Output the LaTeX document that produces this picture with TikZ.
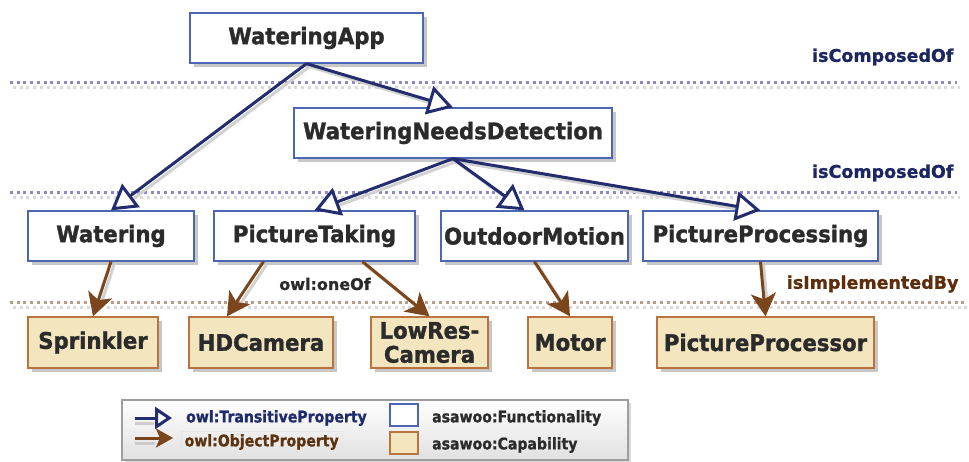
\documentclass[tikz,border=0pt]{standalone}
\usepackage{fontspec}
\setmainfont[BoldFeatures={FakeBold=1.0}]{DejaVu Sans}
\newfontfamily\boxfont[FakeStretch=0.93,BoldFeatures={FakeBold=1.4}]{DejaVu Sans}
\newfontfamily\legfont[FakeStretch=0.88,BoldFeatures={FakeBold=1.0}]{DejaVu Sans}
\usetikzlibrary{arrows.meta,shadows,calc}

\definecolor{navy}{HTML}{232D6E}
\definecolor{boxblue}{HTML}{4A66B5}
\definecolor{txtdark}{HTML}{2B2B2B}
\definecolor{brownarr}{HTML}{7B461C}
\definecolor{tanfill}{HTML}{F3E6BF}
\definecolor{tanline}{HTML}{B8733F}
\definecolor{dotblue}{HTML}{8C89C4}
\definecolor{dotbrown}{HTML}{B99C89}
\definecolor{dotshade}{HTML}{DADADA}
\definecolor{lblnavy}{HTML}{1C2660}
\definecolor{lblbrown}{HTML}{5C2E0C}
\definecolor{legnavy}{HTML}{1F2A6B}
\definecolor{legbrown}{HTML}{5C3310}

\tikzset{
  boxshadow/.style={drop shadow={shadow xshift=4pt,shadow yshift=-4pt,fill=black!22,opacity=1}},
  func/.style={draw=boxblue,line width=1.3pt,fill=white,boxshadow,
    minimum height=50pt,inner sep=0pt,text=txtdark,
    font=\boxfont\fontsize{22.8}{25}\selectfont\bfseries},
  capa/.style={draw=tanline,line width=1.3pt,fill=tanfill,boxshadow,
    minimum height=51pt,inner sep=0pt,text=txtdark,align=center,
    font=\boxfont\fontsize{22.8}{24}\selectfont\bfseries},
  trans/.style={draw=navy,line width=3pt,
    -{Triangle[open,length=25pt,width=29pt,fill=white]}},
  objprop/.style={draw=brownarr,line width=3pt,
    -{Stealth[length=23pt,width=25pt,inset=6pt]}},
  arrshade/.style={draw=black!18,line width=3pt,shorten >=14pt},
  level/.style={font=\fontsize{17.5}{20}\selectfont\bfseries,anchor=east},
  dotrule/.style={line width=3pt,dash pattern=on 3pt off 3.7pt},
  legtext/.style={font=\legfont\fontsize{16}{18}\selectfont\bfseries,anchor=west,inner sep=1pt},
}

\begin{document}
\begin{tikzpicture}[x=1pt,y=-1pt]
\useasboundingbox (0,0) rectangle (969,461);

% level separators (dots with a grey shade under them)
\draw[dotrule,dotshade] (13,87) -- (960,87);
\draw[dotrule,dotblue] (10,82) -- (957,82);
\draw[dotrule,dotshade] (13,197) -- (960,197);
\draw[dotrule,dotblue] (10,192) -- (957,192);
\draw[dotrule,dotshade] (13,307) -- (969,307);
\draw[dotrule,dotbrown] (10,302) -- (966,302);

\node[level,text=lblnavy] (lvlA) at (957,57) {isComposedOf};
\node[level,text=lblnavy] (lvlB) at (957,173) {isComposedOf};
\node[level,text=lblbrown] (lvlC) at (962,284) {isImplementedBy};

% functionalities
\node[func,minimum width=233pt] (app) at (306.5,38) {WateringApp};
\node[func,minimum width=318pt] (wnd) at (453,133) {WateringNeedsDetection};
\node[func,minimum width=166pt] (watering) at (111,236) {Watering};
\node[func,minimum width=201pt] (pictaking) at (314.5,236) {PictureTaking};
\node[func,minimum width=187pt] (outdoor) at (534.5,236) {OutdoorMotion};
\node[func,minimum width=235pt] (picproc) at (760.5,236) {PictureProcessing};

% capabilities
\node[capa,minimum width=130pt] (sprinkler) at (93,342.5) {Sprinkler};
\node[capa,minimum width=144pt] (hdcam) at (261,342.5) {HDCamera};
\node[capa,minimum width=117pt] (lowres) at (429.5,342.5) {LowRes-\\Camera};
\node[capa,minimum width=84pt] (motor) at (570,342.5) {Motor};
\node[capa,minimum width=217pt] (picprocessor) at (765.5,342.5) {PictureProcessor};

\node[font=\fontsize{16}{18}\selectfont\bfseries,text=txtdark] (oneof) at (325,284) {owl:oneOf};

% grey shade under every link
\begin{scope}[transform canvas={xshift=3pt,yshift=-3pt}]
  \draw[arrshade] (app.south) -- (watering.north);
  \draw[arrshade] (app.south) -- (wnd.north);
  \draw[arrshade] (wnd.south) -- (pictaking.north);
  \draw[arrshade] (wnd.south) -- ([xshift=-10pt]outdoor.north);
  \draw[arrshade] (wnd.south) -- (picproc.north);
  \draw[arrshade] (watering.south) -- (sprinkler.north);
  \draw[arrshade] ([xshift=-51pt]pictaking.south) -- ([xshift=-34pt]hdcam.north);
  \draw[arrshade] ([xshift=48pt]pictaking.south) -- (lowres.north);
  \draw[arrshade] (outdoor.south) -- (motor.north);
  \draw[arrshade] (picproc.south) -- (picprocessor.north);
\end{scope}

% composition links
\draw[trans] (app.south) -- (watering.north);
\draw[trans] (app.south) -- (wnd.north);
\draw[trans] (wnd.south) -- (pictaking.north);
\draw[trans] (wnd.south) -- ([xshift=-10pt]outdoor.north);
\draw[trans] (wnd.south) -- (picproc.north);

% implementation links
\draw[objprop] (watering.south) -- (sprinkler.north);
\draw[objprop] ([xshift=-51pt]pictaking.south) -- ([xshift=-34pt]hdcam.north);
\draw[objprop] ([xshift=48pt]pictaking.south) -- (lowres.north);
\draw[objprop] (outdoor.south) -- (motor.north);
\draw[objprop] (picproc.south) -- (picprocessor.north);

% legend
\node[draw=black!38,line width=2.2pt,top color=white,bottom color=black!12,
      minimum width=506pt,minimum height=60pt,inner sep=0pt,
      drop shadow={shadow xshift=3pt,shadow yshift=-3pt,fill=black!15,opacity=1}]
      (legend) at (375,430) {};
\coordinate (tA0) at (135,418);
\coordinate (tA1) at (172,418);
\coordinate (oA0) at (135,438);
\coordinate (oA1) at (173,438);
\draw[draw=black!20,line width=3pt] ($(tA0)+(0,5)$) -- ($(tA1)+(-18,5)$);
\draw[draw=black!20,line width=3pt] ($(oA0)+(0,5)$) -- ($(oA1)+(-18,5)$);
\draw[navy,line width=3pt,-{Triangle[open,length=17pt,width=22pt,fill=white]}] (tA0) -- (tA1);
\draw[brownarr,line width=3pt,-{Stealth[length=17pt,width=19pt,inset=4pt]}] (oA0) -- (oA1);
\node[legtext,text=legnavy] (ltrans) at (185,418) {owl:TransitiveProperty};
\node[legtext,text=legbrown,draw=black!10,line width=0.4pt,minimum width=161pt,
      minimum height=22pt,inner sep=0pt] (lobj) at (181,442) {owl:ObjectProperty};
\node[draw=boxblue,line width=1.2pt,fill=white,minimum width=28pt,minimum height=22pt,
      inner sep=0pt] (kfunc) at (404,415) {};
\node[draw=tanline,line width=1.2pt,fill=tanfill,minimum width=28pt,minimum height=22pt,
      inner sep=0pt] (kcapa) at (404,443) {};
\node[legtext,text=txtdark] (lfunc) at (431,418) {asawoo:Functionality};
\node[legtext,text=txtdark] (lcapa) at (431,445) {asawoo:Capability};
\end{tikzpicture}
\end{document}
